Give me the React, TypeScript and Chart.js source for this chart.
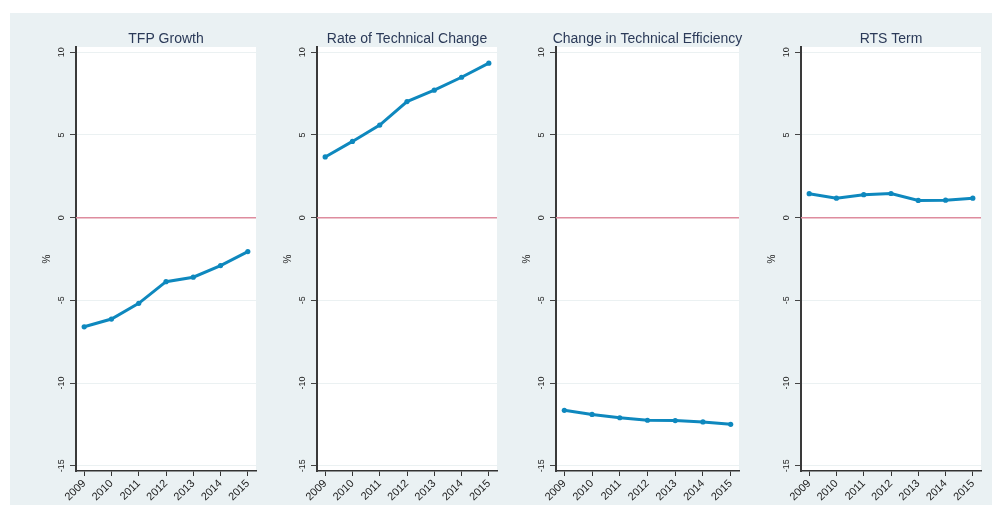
import React, { useEffect, useRef } from 'react';
import { Chart, registerables } from 'chart.js';

Chart.register(...registerables);

// ---- data ----
const years = [2009, 2010, 2011, 2012, 2013, 2014, 2015];
const tfpGrowth = [-6.6, -6.13, -5.18, -3.87, -3.6, -2.9, -2.05];
const techChange = [3.67, 4.61, 5.6, 7.02, 7.71, 8.49, 9.34];
const techEfficiency = [-11.65, -11.9, -12.1, -12.25, -12.27, -12.35, -12.5];
const rtsTerm = [1.45, 1.18, 1.39, 1.46, 1.04, 1.06, 1.18];
const yTicks = [-15, -10, -5, 0, 5, 10];
const panelTitles = ['TFP Growth', 'Rate of Technical Change', 'Change in Technical Efficiency', 'RTS Term'];
const yAxisTitle = '%';

// ---- style ----
const BG = '#EAF1F3';
const LINE = '#0E88BE';
const ZERO = '#DE8C9E';
const TEXT = '#222222';
const TITLE = '#2B3A58';
const FONT = '"Liberation Sans", Arial, sans-serif';

const Y_AXIS_W = 66;
const TOP_PAD = 34;
const X_AXIS_H = 34;
const CANVAS_H = 492;

const stataPlugin = {
  id: 'stataDecor',
  beforeDraw(chart: any) {
    const { ctx, chartArea } = chart;
    ctx.save();
    ctx.fillStyle = '#FFFFFF';
    ctx.fillRect(chartArea.left, chartArea.top, chartArea.right - chartArea.left, chartArea.bottom - chartArea.top);
    ctx.restore();
  },
  beforeDatasetsDraw(chart: any) {
    const { ctx, chartArea, scales } = chart;
    const y0 = scales.y.getPixelForValue(0);
    ctx.save();
    ctx.strokeStyle = ZERO;
    ctx.lineWidth = 1.5;
    ctx.beginPath();
    ctx.moveTo(chartArea.left, y0);
    ctx.lineTo(chartArea.right, y0);
    ctx.stroke();
    ctx.restore();
  },
  afterDraw(chart: any) {
    const { ctx, chartArea, scales } = chart;
    const title = chart.options.plugins.stataDecor.title;
    ctx.save();
    // y tick labels, vertical
    ctx.fillStyle = TEXT;
    ctx.font = `9px ${FONT}`;
    ctx.textAlign = 'center';
    ctx.textBaseline = 'middle';
    for (const v of yTicks) {
      const y = scales.y.getPixelForValue(v);
      ctx.save();
      ctx.translate(chartArea.left - 14, y);
      ctx.rotate(-Math.PI / 2);
      ctx.fillText(String(v), 0, 0);
      ctx.restore();
    }
    // y axis title
    ctx.font = `10px ${FONT}`;
    ctx.save();
    ctx.translate(chartArea.left - 29, (chartArea.top + chartArea.bottom) / 2);
    ctx.rotate(-Math.PI / 2);
    ctx.fillText(yAxisTitle, 0, 0);
    ctx.restore();
    // panel title
    ctx.fillStyle = TITLE;
    ctx.font = `14px ${FONT}`;
    ctx.fillText(title, (chartArea.left + chartArea.right) / 2, chartArea.top - 8);
    ctx.restore();
  },
};

type PanelProps = { title: string; values: number[]; left: number; plotWidth: number };

function Panel({ title, values, left, plotWidth }: PanelProps) {
  const ref = useRef<HTMLCanvasElement | null>(null);
  const width = Y_AXIS_W + plotWidth + 4;
  useEffect(() => {
    if (!ref.current) return;
    const chart = new Chart(ref.current, {
      type: 'line',
      data: {
        datasets: [
          {
            data: years.map((yr, i) => ({ x: yr, y: values[i] })),
            borderColor: LINE,
            backgroundColor: LINE,
            borderWidth: 3,
            pointRadius: 2.6,
            pointBorderWidth: 0,
            pointBackgroundColor: LINE,
            tension: 0,
          },
        ],
      },
      options: {
        animation: false,
        responsive: false,
        maintainAspectRatio: false,
        devicePixelRatio: 1,
        layout: { padding: { top: TOP_PAD, right: 4, left: 0, bottom: 0 } },
        plugins: {
          legend: { display: false },
          tooltip: { enabled: false },
          stataDecor: { title },
        } as any,
        scales: {
          x: {
            type: 'linear',
            min: 2008.7,
            max: 2015.3,
            afterBuildTicks: (s: any) => {
              s.ticks = years.map((v) => ({ value: v }));
            },
            afterFit: (s: any) => {
              s.height = X_AXIS_H;
            },
            grid: { drawOnChartArea: false, drawTicks: true, tickLength: 5, tickColor: '#333', tickWidth: 1 },
            border: { display: true, color: '#333', width: 1.5 },
            ticks: {
              minRotation: 45,
              maxRotation: 45,
              autoSkip: false,
              padding: 1,
              color: TEXT,
              font: { family: FONT, size: 11 },
              callback: (v: any) => String(v),
            },
          },
          y: {
            type: 'linear',
            min: -15.32,
            max: 10.32,
            afterBuildTicks: (s: any) => {
              s.ticks = yTicks.map((v) => ({ value: v }));
            },
            afterFit: (s: any) => {
              s.width = Y_AXIS_W;
            },
            grid: { color: '#EBF1F2', lineWidth: 1, drawTicks: true, tickLength: 6, tickColor: '#444' },
            border: { display: true, color: '#3A3A3A', width: 2 },
            ticks: { display: false },
          },
        },
      },
      plugins: [stataPlugin],
    } as any);
    return () => chart.destroy();
  }, [title, values, plotWidth]);
  return (
    <canvas
      ref={ref}
      width={width}
      height={CANVAS_H}
      style={{ position: 'absolute', left, top: 0, width, height: CANVAS_H }}
    />
  );
}

export default function App() {
  const series = [tfpGrowth, techChange, techEfficiency, rtsTerm];
  const lefts = [0, 241, 480, 725];
  const plotWidths = [180, 180, 183, 180];
  return (
    <div
      style={{
        position: 'absolute',
        left: 10,
        top: 13,
        width: 982,
        height: CANVAS_H,
        background: BG,
      }}
    >
      {series.map((vals, i) => (
        <Panel key={i} title={panelTitles[i]} values={vals} left={lefts[i]} plotWidth={plotWidths[i]} />
      ))}
    </div>
  );
}
